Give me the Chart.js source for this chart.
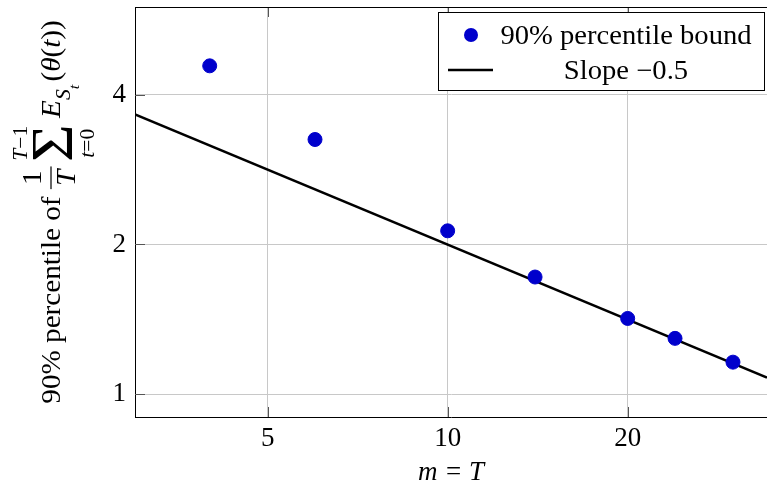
<html lang="en">
<head>
<meta charset="UTF-8">
<title>Percentile bound</title>
<script src="https://cdn.jsdelivr.net/npm/chart.js@4.4.0/dist/chart.umd.min.js"></script>
<style>
  body { margin: 0; background: #fff; }
  #wrap { width: 767px; height: 486px; }
</style>
</head>
<body>
<div id="wrap"><canvas id="myChart" width="767" height="486"></canvas></div>
<script>
// data
const mValues = [4, 6, 10, 14, 20, 24, 30];
const boundValues = [4.57, 3.25, 2.13, 1.72, 1.42, 1.295, 1.16];
const slopeX = [3, 34.2];       // reference line end points
const slopeY = [3.65, 1.08];
const xTicks = [5, 10, 20];
const yTicks = [1, 2, 4];
const seriesLabels = ['90% percentile bound', 'Slope \u22120.5'];

const FONT = '"Liberation Serif", "Times New Roman", serif';
const fnt = (s, it) => (it ? 'italic ' : '') + s + 'px ' + FONT;

// frame, inner tick marks, legend and axis titles
const decor = {
    id: 'decor',
    beforeDatasetsDraw(chart) {
        const ctx = chart.ctx, a = chart.chartArea;
        const xs = chart.scales.x, ys = chart.scales.y;
        ctx.save();
        ctx.strokeStyle = '#555';
        ctx.lineWidth = 1;
        ctx.beginPath();
        xTicks.forEach(v => {
            const px = Math.round(xs.getPixelForValue(v)) + 0.5;
            ctx.moveTo(px, a.bottom); ctx.lineTo(px, a.bottom - 10);
            ctx.moveTo(px, a.top); ctx.lineTo(px, a.top + 10);
        });
        yTicks.forEach(v => {
            const py = Math.round(ys.getPixelForValue(v)) + 0.5;
            ctx.moveTo(a.left, py); ctx.lineTo(a.left + 10, py);
        });
        ctx.stroke();
        ctx.restore();
    },
    afterDraw(chart) {
        const ctx = chart.ctx, a = chart.chartArea;
        ctx.save();
        // top border
        ctx.strokeStyle = '#000';
        ctx.lineWidth = 1;
        ctx.beginPath();
        ctx.moveTo(a.left, Math.round(a.top) + 0.5);
        ctx.lineTo(a.right, Math.round(a.top) + 0.5);
        ctx.stroke();

        // legend
        const lx = 438.5, ly = 12.5, lw = 326, lh = 78;
        ctx.fillStyle = '#fff';
        ctx.fillRect(lx, ly, lw, lh);
        ctx.strokeRect(lx, ly, lw, lh);
        ctx.fillStyle = '#0000cc';
        ctx.beginPath();
        ctx.arc(471, 35, 7, 0, Math.PI * 2);
        ctx.fill();
        ctx.strokeStyle = '#000';
        ctx.lineWidth = 2.5;
        ctx.beginPath();
        ctx.moveTo(448, 70); ctx.lineTo(493, 70);
        ctx.stroke();
        ctx.fillStyle = '#000';
        ctx.font = fnt(27, false);
        ctx.textAlign = 'center';
        ctx.textBaseline = 'alphabetic';
        [[seriesLabels[0], 44], [seriesLabels[1], 79]].forEach(([t, y]) => {
            ctx.save();
            ctx.translate(626, y);
            ctx.scale(1.06, 1);
            ctx.fillText(t, 0, 0);
            ctx.restore();
        });

        // x title
        ctx.font = fnt(27, true);
        ctx.fillText('m = T', (a.left + a.right) / 2, 480);

        // y title, rotated
        ctx.translate(60, (a.top + a.bottom) / 2);
        ctx.rotate(-Math.PI / 2);
        ctx.scale(1.08, 1);
        const ops = [];
        let u = 0;
        const w = (t, s, it) => { ctx.font = fnt(s, it); return ctx.measureText(t).width; };
        const put = (t, s, it, x, y) => ops.push({ t, s, it, x, y });
        put('90% percentile of', 27, false, u, 0);
        u += w('90% percentile of ', 27, false);
        const fw = Math.max(w('1', 27, false), w('T', 27, true)) + 6;
        put('1', 27, false, u + fw / 2 - w('1', 27, false) / 2, -19);
        put('T', 27, true, u + fw / 2 - w('T', 27, true) / 2, 15);
        ops.push({ bar: true, x: u, w: fw, y: -9 });
        u += fw + 4;
        const sw = w('\u03A3', 60, false);
        put('\u03A3', 60, false, u, 12);
        const tw = w('T', 20, true) + w('\u22121', 20, false);
        put('T', 20, true, u + sw / 2 - tw / 2, -33);
        put('\u22121', 20, false, u + sw / 2 - tw / 2 + w('T', 20, true), -33);
        const bw = w('t', 20, true) + w('=0', 20, false);
        put('t', 20, true, u + sw / 2 - bw / 2, 34);
        put('=0', 20, false, u + sw / 2 - bw / 2 + w('t', 20, true), 34);
        u += sw + 6;
        put('E', 27, true, u, 0); u += w('E', 27, true);
        put('S', 20, true, u, 10); u += w('S', 20, true);
        put('t', 15, true, u, 19); u += w('t', 15, true) + 3;
        put('(', 27, false, u, 0); u += w('(', 27, false);
        put('\u03B8', 27, true, u, 0); u += w('\u03B8', 27, true);
        put('(', 27, false, u, 0); u += w('(', 27, false);
        put('t', 27, true, u, 0); u += w('t', 27, true);
        put('))', 27, false, u, 0); u += w('))', 27, false);
        const off = -u / 2;
        ctx.textAlign = 'left';
        ops.forEach(o => {
            if (o.bar) {
                ctx.fillRect(o.x + off, o.y - 0.6, o.w, 1.2);
            } else {
                ctx.font = fnt(o.s, o.it);
                ctx.fillText(o.t, o.x + off, o.y);
            }
        });
        ctx.restore();
    }
};

const ctx = document.getElementById('myChart').getContext('2d');
const myChart = new Chart(ctx, {
    type: 'scatter',
    data: {
        datasets: [{
            label: seriesLabels[0],
            data: mValues.map((m, i) => ({ x: m, y: boundValues[i] })),
            backgroundColor: '#0000cc',
            borderColor: '#0000cc',
            pointRadius: 7,
            order: 0
        }, {
            label: seriesLabels[1],
            data: slopeX.map((m, i) => ({ x: m, y: slopeY[i] })),
            showLine: true,
            borderColor: '#000',
            borderWidth: 2.5,
            pointRadius: 0,
            order: 1
        }]
    },
    options: {
        responsive: false,
        animation: false,
        devicePixelRatio: 1,
        layout: { autoPadding: false, padding: { top: 7, left: 0, right: 0, bottom: 0 } },
        plugins: { legend: { display: false }, tooltip: { enabled: false } },
        scales: {
            x: {
                type: 'logarithmic',
                min: 3,
                max: 34.2,
                afterBuildTicks: s => { s.ticks = xTicks.map(v => ({ value: v })); },
                afterFit: s => { s.height = 69; s.paddingLeft = 0; s.paddingRight = 0; },
                grid: { color: 'rgb(200,200,200)', drawTicks: false },
                border: { color: '#000', width: 1 },
                ticks: {
                    padding: 6,
                    color: '#000',
                    font: { family: FONT, size: 27 },
                    callback: v => String(v)
                }
            },
            y: {
                type: 'logarithmic',
                min: 0.9,
                max: 6,
                afterBuildTicks: s => { s.ticks = yTicks.map(v => ({ value: v })); },
                afterFit: s => { s.width = 135; s.paddingTop = 0; s.paddingBottom = 0; },
                grid: { color: 'rgb(200,200,200)', drawTicks: false },
                border: { color: '#000', width: 1 },
                ticks: {
                    padding: 9,
                    color: '#000',
                    font: { family: FONT, size: 27 },
                    callback: v => String(v)
                }
            }
        }
    },
    plugins: [decor]
});
</script>
</body>
</html>
